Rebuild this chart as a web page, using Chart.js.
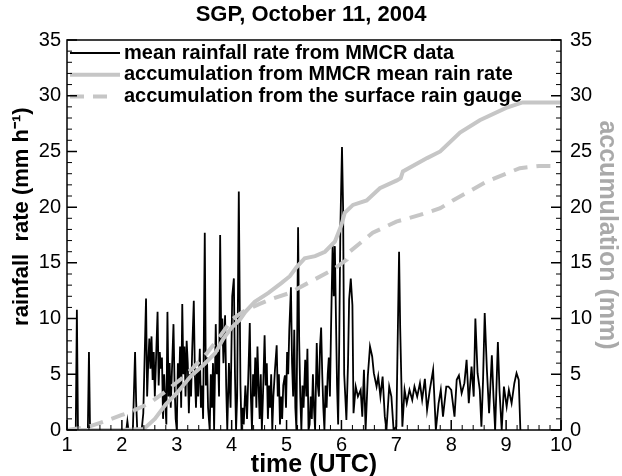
<!DOCTYPE html>
<html>
<head>
<meta charset="utf-8">
<title>SGP, October 11, 2004</title>
<script src="https://cdn.jsdelivr.net/npm/chart.js@4.4.1/dist/chart.umd.min.js"></script>
<style>
  html, body { margin: 0; padding: 0; background: #fff; }
</style>
</head>
<body>
<canvas id="rainChart" width="622" height="476"></canvas>
<script>
// mean rainfall rate from MMCR (mm/h), time in UTC hours
const rateTime = [
  1.00, 1.16, 1.18, 1.20, 1.38, 1.40, 1.42, 2.08, 2.10, 2.12,
  2.20, 2.22, 2.24, 2.26, 2.28, 2.36, 2.39, 2.44, 2.46, 2.48,
  2.50, 2.52, 2.54, 2.56, 2.58, 2.60, 2.62, 2.65, 2.67, 2.69,
  2.71, 2.73, 2.75, 2.77, 2.79, 2.81, 2.83, 2.85, 2.87, 2.89,
  2.91, 2.94, 2.96, 2.98, 3.00, 3.02, 3.04, 3.06, 3.08, 3.10,
  3.12, 3.14, 3.16, 3.18, 3.20, 3.22, 3.24, 3.26, 3.28, 3.31,
  3.33, 3.35, 3.37, 3.39, 3.42, 3.44, 3.46, 3.48, 3.51, 3.53,
  3.55, 3.57, 3.60, 3.62, 3.64, 3.66, 3.68, 3.71, 3.73, 3.75,
  3.77, 3.79, 3.81, 3.83, 3.85, 3.88, 3.90, 3.92, 3.95, 3.98,
  4.01, 4.04, 4.06, 4.08, 4.10, 4.13, 4.16, 4.18, 4.20, 4.22,
  4.25, 4.28, 4.31, 4.33, 4.35, 4.37, 4.39, 4.41, 4.43, 4.45,
  4.47, 4.49, 4.51, 4.53, 4.55, 4.57, 4.60, 4.62, 4.64, 4.66,
  4.68, 4.70, 4.72, 4.74, 4.76, 4.79, 4.82, 4.84, 4.86, 4.88,
  4.90, 4.92, 4.94, 4.97, 4.99, 5.01, 5.03, 5.05, 5.08, 5.10,
  5.12, 5.14, 5.16, 5.18, 5.21, 5.23, 5.25, 5.27, 5.29, 5.31,
  5.34, 5.36, 5.38, 5.40, 5.42, 5.44, 5.46, 5.48, 5.50, 5.52,
  5.55, 5.57, 5.59, 5.61, 5.63, 5.65, 5.67, 5.69, 5.71, 5.73,
  5.75, 5.77, 5.79, 5.81, 5.84, 5.86, 5.88, 5.90, 5.92, 5.94,
  5.96, 5.98, 6.01, 6.03, 6.05, 6.07, 6.09, 6.12, 6.14, 6.17,
  6.20, 6.22, 6.26, 6.30, 6.35, 6.38, 6.41, 6.44, 6.48, 6.52,
  6.56, 6.59, 6.64, 6.67, 6.71, 6.75, 6.79, 6.82, 6.87, 6.91,
  6.95, 7.00, 7.05, 7.07, 7.11, 7.15, 7.19, 7.24, 7.29, 7.33,
  7.38, 7.43, 7.47, 7.52, 7.56, 7.61, 7.67, 7.72, 7.77, 7.81,
  7.85, 7.91, 7.95, 8.00, 8.06, 8.10, 8.14, 8.19, 8.24, 8.28,
  8.32, 8.37, 8.41, 8.44, 8.48, 8.52, 8.55, 8.58, 8.61, 8.65,
  8.69, 8.74, 8.77, 8.80, 8.85, 8.88, 8.92, 8.96, 9.01, 9.05,
  9.10, 9.15, 9.19, 9.23, 9.26
];
const rateValue = [
  0, 0, 10.8, 0, 0, 7.0, 0, 0, 0.8, 0,
  0, 3.5, 7.0, 2.5, 0, 0, 1.5, 11.8, 3, 6,
  8.2, 5.5, 8.4, 4.5, 7, 3, 6, 10.6, 4, 7,
  5.5, 6.5, 1, 5, 2.5, 0.5, 10.6, 3, 6, 2,
  5, 9.5, 4, 1, 0, 6, 3.5, 7.5, 2, 11.3,
  5, 7.5, 3, 8, 6, 1.5, 5, 3, 7, 11.6,
  5, 2, 5.5, 3, 7.3, 2, 4, 1, 17.7, 4,
  6.5, 2, 0, 5, 2, 6, 0, 9.5, 5, 7,
  3, 17.5, 8, 10, 6, 10.3, 4, 0, 6, 2,
  12, 13.6, 5, 0, 3, 21.4, 4, 0, 2, 0.5,
  4, 1, 6, 9.6, 3, 0, 5, 3, 6.5, 2,
  7.5, 4, 1, 5, 0, 3, 8.5, 4, 6, 1,
  4, 2, 5, 0, 3, 5.5, 7.6, 3, 5, 0.5,
  3, 1, 4, 4.9, 2, 7, 5, 9, 12.8, 6,
  3, 9, 2, 0, 18.2, 8, 3, 0, 4, 2,
  6.3, 3, 7.3, 0, 0.5, 3, 1, 5, 2, 0,
  7.8, 4, 3, 7.5, 9.2, 5, 2, 0, 4, 2,
  5, 6.5, 3, 9, 16.8, 12, 16.5, 10, 4, 0.5,
  8, 18, 25.4, 20, 5, 3, 0.9, 6, 11.7, 13.6,
  11.2, 1.5, 3.9, 3.0, 3.6, 1.2, 5.4, 0, 4.8, 7.5,
  6.6, 5.1, 3.9, 4.8, 3.0, 4.8, 1.2, 0, 3.9, 3.0,
  0, 0.3, 16.0, 9.2, 0.3, 3.6, 2.4, 3.6, 2.7, 3.9,
  3.0, 4.2, 2.7, 4.6, 1.8, 3.6, 5.4, 0, 2.4, 3.6,
  1.2, 3.9, 3.9, 3.6, 1.2, 4.5, 4.9, 3.3, 4.2, 6.3,
  2.4, 5.7, 3.0, 10.0, 5.1, 3.6, 0.3, 4.5, 10.5, 5.4,
  1.5, 6.7, 3.0, 0, 7.9, 3.5, 0, 3.9, 2.1, 3.6,
  2.4, 4.2, 5.1, 4.5, 0
];

// accumulation from MMCR mean rain rate (mm)
const mmcrTime = [1.0, 2.0, 2.4, 2.6, 2.8, 3.0, 3.25, 3.5, 3.7, 3.85, 4.0, 4.15, 4.25, 4.42, 4.67, 4.91, 5.06, 5.18, 5.33, 5.52,
  5.7, 5.88, 6.0, 6.06, 6.21, 6.46, 6.7, 7.01, 7.08, 7.12, 7.56, 7.8, 8.16, 8.52, 9.0, 9.3, 10.0];
const mmcrAcc = [0, 0, 0.1, 1.0, 2.3, 3.3, 4.8, 5.9, 6.9, 8.2, 9.2, 9.9, 10.6, 11.5, 12.3, 13.2, 13.8, 14.6, 15.4, 15.6,
  16.0, 16.9, 18.4, 19.5, 20.2, 20.6, 21.7, 22.4, 22.6, 23.2, 24.4, 25.0, 26.7, 27.8, 28.9, 29.4, 29.4];

// accumulation from the surface rain gauge (mm)
const gaugeTime = [1.0, 1.4, 1.7, 2.0, 2.15, 2.5, 2.78, 3.06, 3.3, 3.55, 3.8, 4.0, 4.2, 4.5, 4.75, 5.06, 5.43, 5.85, 6.1, 6.15,
  6.57, 7.0, 7.43, 7.8, 8.03, 8.65, 9.25, 9.6, 9.9];
const gaugeAcc = [0, 0.3, 0.8, 1.35, 1.6, 2.4, 3.4, 4.5, 5.6, 6.9, 8.5, 9.9, 10.6, 11.3, 11.8, 12.3, 13.3, 14.4, 15.3, 16.0,
  17.7, 18.7, 19.3, 19.9, 20.6, 22.3, 23.5, 23.7, 23.7];

const GRAY = '#c6c6c6';
const FONT = "'Liberation Sans', Arial, Helvetica, sans-serif";
Chart.defaults.font.family = FONT;
Chart.defaults.color = '#000';

const toPoints = (xs, ys) => xs.map((x, i) => ({ x: x, y: ys[i] }));

// inward Tecplot-style ticks + frame
const frameTicks = {
  id: 'frameTicks',
  afterDraw(chart) {
    const { ctx, chartArea } = chart;
    const { left, right, top, bottom } = chartArea;
    const sx = chart.scales.x, sy = chart.scales.y, sy2 = chart.scales.y2;
    ctx.save();
    ctx.strokeStyle = '#000';
    [true, false].forEach(major => {
      ctx.beginPath();
      ctx.lineWidth = major ? 1.5 : 1;
      for (let i = 0; i <= 45; i++) {
        if ((i % 5 === 0) !== major) continue;
        const px = sx.getPixelForValue(1 + i * 0.2);
        ctx.moveTo(px, bottom);
        ctx.lineTo(px, bottom - (major ? 10 : 5));
      }
      for (let i = 0; i <= 35; i++) {
        if ((i % 5 === 0) !== major) continue;
        const len = major ? 10 : 5;
        const pl = sy.getPixelForValue(i);
        ctx.moveTo(left, pl);
        ctx.lineTo(left + len, pl);
        const pr = sy2.getPixelForValue(i);
        ctx.moveTo(right, pr);
        ctx.lineTo(right - len, pr);
      }
      ctx.stroke();
    });
    ctx.lineWidth = 1.5;
    ctx.strokeRect(left, top, right - left, bottom - top);
    ctx.restore();
  }
};

// legend inside the plot, top left, with the dataset line styles
const insideLegend = {
  id: 'insideLegend',
  beforeDatasetsDraw(chart) {
    const { ctx, chartArea } = chart;
    const x0 = chartArea.left + 3;
    const textX = chartArea.left + 57;
    ctx.save();
    ctx.font = 'bold 20px ' + FONT;
    ctx.textBaseline = 'middle';
    ctx.textAlign = 'left';
    chart.data.datasets.forEach((ds, i) => {
      const y = chartArea.top + 13 + i * 21.7;
      ctx.strokeStyle = ds.borderColor;
      ctx.lineWidth = ds.borderWidth;
      ctx.setLineDash(ds.borderDash || []);
      ctx.beginPath();
      ctx.moveTo(x0, y);
      ctx.lineTo(ds.borderDash ? x0 + 46 : x0 + 50, y);
      ctx.stroke();
      ctx.fillStyle = '#000';
      ctx.fillText(ds.label, textX, y);
    });
    ctx.restore();
  }
};

const tickFont = { size: 20 };

new Chart(document.getElementById('rainChart'), {
  type: 'line',
  data: {
    datasets: [
      {
        label: 'mean rainfall rate from MMCR data',
        data: toPoints(rateTime, rateValue),
        yAxisID: 'y',
        borderColor: '#000',
        backgroundColor: '#000',
        borderWidth: 1.8,
        pointRadius: 0,
        tension: 0,
        order: 3
      },
      {
        label: 'accumulation from MMCR mean rain rate',
        data: toPoints(mmcrTime, mmcrAcc),
        yAxisID: 'y2',
        borderColor: GRAY,
        backgroundColor: GRAY,
        borderWidth: 4,
        pointRadius: 0,
        tension: 0,
        order: 1
      },
      {
        label: 'accumulation from the surface rain gauge',
        data: toPoints(gaugeTime, gaugeAcc),
        yAxisID: 'y2',
        borderColor: GRAY,
        backgroundColor: GRAY,
        borderWidth: 4,
        borderDash: [14, 9],
        pointRadius: 0,
        tension: 0,
        order: 2
      }
    ]
  },
  options: {
    responsive: false,
    animation: false,
    events: [],
    devicePixelRatio: 1,
    layout: { padding: 0 },
    plugins: {
      title: {
        display: true,
        text: 'SGP, October 11, 2004',
        font: { size: 22, weight: 'bold' },
        color: '#000',
        padding: { top: 2, bottom: 11.6 }
      },
      legend: { display: false },
      tooltip: { enabled: false }
    },
    scales: {
      x: {
        type: 'linear',
        min: 1,
        max: 10,
        ticks: { stepSize: 1, font: tickFont, color: '#000', padding: 3, maxRotation: 0, autoSkip: false },
        grid: { display: false, drawTicks: false },
        border: { display: false },
        title: { display: true, text: 'time (UTC)', font: { size: 25, weight: 'bold', lineHeight: 0.85 }, color: '#000', padding: 0 },
        afterFit(s) { s.height = 46; }
      },
      y: {
        position: 'left',
        min: 0,
        max: 35,
        ticks: { stepSize: 5, font: tickFont, color: '#000', padding: 6 },
        grid: { display: false, drawTicks: false },
        border: { display: false },
        title: { display: true, text: '      rainfall  rate (mm h\u207B\u00B9)', font: { size: 22, weight: 'bold', lineHeight: 1 }, color: '#000', padding: { top: 11, bottom: 0 } },
        afterFit(s) { s.width = 67; }
      },
      y2: {
        position: 'right',
        min: 0,
        max: 35,
        ticks: { stepSize: 5, font: tickFont, color: '#000', padding: 9 },
        grid: { display: false, drawTicks: false },
        border: { display: false },
        title: { display: true, text: 'accumulation (mm)', font: { size: 25, weight: 'bold', lineHeight: 1 }, color: '#a9a9a9', padding: { top: 3, bottom: 0 } },
        afterFit(s) { s.width = 61; }
      }
    }
  },
  plugins: [frameTicks, insideLegend]
});
</script>
</body>
</html>
